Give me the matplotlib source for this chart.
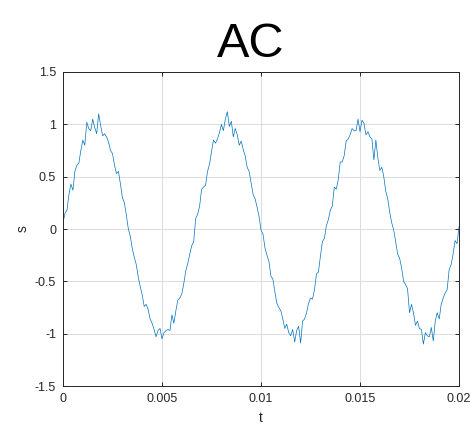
import numpy as np
import matplotlib
matplotlib.use("Agg")
import matplotlib.pyplot as plt

# signal, one value every 0.1 ms
t_step = 0.0001
s = [
    0.06, 0.15, 0.18, 0.33, 0.43, 0.37, 0.55, 0.61, 0.63, 0.75,
    0.85, 0.80, 1.02, 0.96, 0.94, 1.05, 0.97, 0.91, 1.10, 0.99,
    0.89, 0.91, 0.88, 0.83, 0.75, 0.72, 0.61, 0.53, 0.55, 0.43,
    0.30, 0.25, 0.13, 0.00, -0.07, -0.19, -0.27, -0.34, -0.46, -0.55,
    -0.63, -0.74, -0.72, -0.77, -0.86, -0.90, -0.96, -1.03, -0.97, -0.95,
    -1.05, -0.99, -0.97, -0.96, -0.97, -0.82, -0.90, -0.78, -0.68, -0.66,
    -0.62, -0.52, -0.40, -0.33, -0.24, -0.16, -0.12, 0.10, 0.14, 0.22,
    0.38, 0.40, 0.42, 0.55, 0.62, 0.74, 0.85, 0.82, 0.86, 0.92,
    1.00, 0.94, 1.05, 1.12, 0.98, 1.03, 0.88, 0.96, 0.90, 0.80,
    0.84, 0.76, 0.70, 0.59, 0.55, 0.44, 0.33, 0.29, 0.21, 0.12,
    -0.01, -0.05, -0.18, -0.25, -0.31, -0.45, -0.48, -0.60, -0.71, -0.75,
    -0.78, -0.86, -0.95, -0.91, -0.99, -1.02, -0.96, -1.08, -0.97, -0.93,
    -1.09, -0.88, -0.86, -0.80, -0.71, -0.66, -0.67, -0.58, -0.43, -0.41,
    -0.26, -0.12, -0.09, 0.03, 0.09, 0.18, 0.22, 0.40, 0.38, 0.47,
    0.64, 0.64, 0.70, 0.84, 0.86, 0.90, 0.96, 0.94, 0.94, 1.05,
    0.93, 1.04, 1.01, 0.90, 0.93, 0.88, 0.86, 0.66, 0.85, 0.68,
    0.56, 0.59, 0.50, 0.36, 0.29, 0.16, 0.06, -0.01, -0.12, -0.24,
    -0.28, -0.37, -0.50, -0.53, -0.57, -0.80, -0.72, -0.80, -0.92, -0.88,
    -0.95, -0.96, -1.10, -0.99, -1.02, -1.03, -0.94, -1.07, -0.88, -0.80,
    -0.86, -0.72, -0.66, -0.61, -0.58, -0.39, -0.34, -0.24, -0.11, -0.14,
    0.02,
]
t = np.arange(len(s)) * t_step

xticks = [0, 0.005, 0.01, 0.015, 0.02]
xticklabels = ["0", "0.005", "0.01", "0.015", "0.02"]
yticks = [-1.5, -1, -0.5, 0, 0.5, 1, 1.5]
yticklabels = ["-1.5", "-1", "-0.5", "0", "0.5", "1", "1.5"]

plt.rcParams['font.family'] = ['Liberation Sans', 'DejaVu Sans']

fig = plt.figure(figsize=(4.72, 4.24), dpi=100)
ax = fig.add_axes([0.1335, 0.0896, 0.839, 0.7406])

ax.plot(t, s, color='#0072BD', linewidth=0.5)

ax.set_xlim(0, 0.02)
ax.set_ylim(-1.5, 1.5)
ax.set_xticks(xticks)
ax.set_xticklabels(xticklabels)
ax.set_yticks(yticks)
ax.set_yticklabels(yticklabels)
ax.grid(True, color='#dcdcdc', linewidth=0.7)
ax.set_axisbelow(True)
ax.tick_params(direction='in', top=True, right=True, length=3, width=0.7,
               labelsize=9, colors='#262626', pad=5)
for sp in ax.spines.values():
    sp.set_color('#262626')
    sp.set_linewidth(0.7)

ax.set_xlabel('t', fontsize=10, color='#262626', labelpad=4)
ax.set_ylabel('s', fontsize=10, color='#262626', labelpad=4)
fig.text(0.532, 0.895, 'AC', fontsize=35, ha='center', va='center')

fig.savefig('out.png', dpi=100)
